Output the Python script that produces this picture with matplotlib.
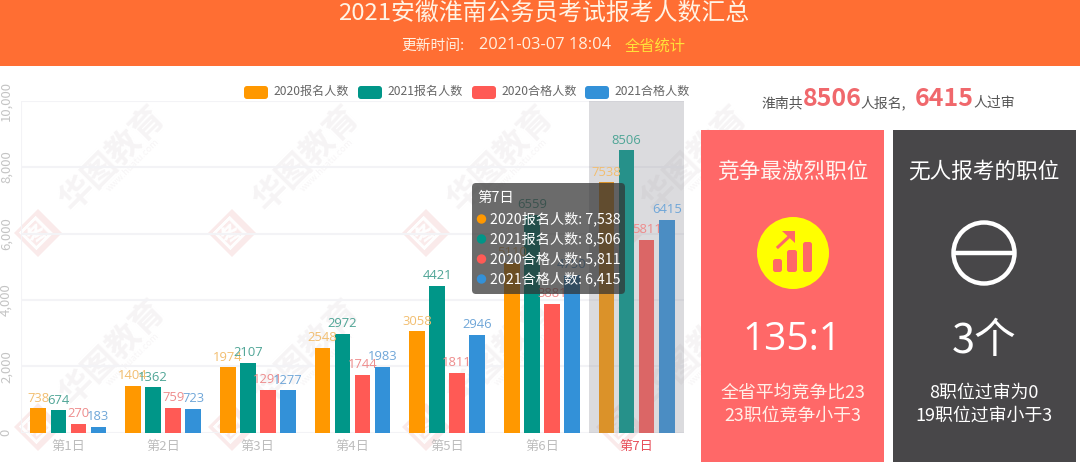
import matplotlib
matplotlib.use('Agg')
import matplotlib.pyplot as plt
from matplotlib.patches import Rectangle, FancyBboxPatch, Circle, Polygon

plt.rcParams['font.family'] = ['Noto Sans CJK SC', 'DejaVu Sans']

# data
days = ['第1日', '第2日', '第3日', '第4日', '第5日', '第6日', '第7日']
names = ['2020报名人数', '2021报名人数', '2020合格人数', '2021合格人数']
colors = ['#FF9800', '#009688', '#FF5A55', '#3391D8']
label_colors = ['#F2BE70', '#4FA596', '#EE8C8C', '#6FA6D8']
reg_2020 = [738, 1404, 1974, 2548, 3058, 5110, 7538]
reg_2021 = [674, 1362, 2107, 2972, 4421, 6559, 8506]
pass_2020 = [270, 759, 1291, 1744, 1811, 3881, 5811]
pass_2021 = [183, 723, 1277, 1983, 2946, 4750, 6415]
series = [reg_2020, reg_2021, pass_2020, pass_2021]
y_ticks = [0, 2000, 4000, 6000, 8000, 10000]
tooltip_rows = ['2020报名人数: 7,538', '2021报名人数: 8,506', '2020合格人数: 5,811', '2021合格人数: 6,415']

W, H = 1080, 462
fig = plt.figure(figsize=(W / 100, H / 100), dpi=100, facecolor='white')

# watermark layer goes under the chart
back = fig.add_axes([0, 0, 1, 1], zorder=0)
back.set_xlim(0, W)
back.set_ylim(H, 0)
back.axis('off')
for wy in (233, 427):
    for wx in (38, 232, 426, 620):
        back.add_patch(Polygon([[wx - 24, wy], [wx, wy - 24], [wx + 24, wy], [wx, wy + 24]],
                               fc='#FAEAEA', ec='none'))
        back.text(wx, wy, '图', rotation=45, ha='center', va='center', fontsize=20,
                  fontweight='bold', color='white')
        back.text(wx + 75, wy - 73, '华图教育', rotation=45, ha='center', va='center', fontsize=24,
                  fontweight='bold', color='#F6F4F5')
        back.text(wx + 95, wy - 68, 'www.huatu.com', rotation=45, ha='center', va='center',
                  fontsize=6.5, color='#F7F5F6')

# chart axes
ax = fig.add_axes([21 / W, 1 - 432.7 / H, 663 / W, 332 / H], zorder=1)
ax.set_xlim(-0.5, 6.5)
ax.set_ylim(0, 10000)
ax.set_facecolor('none')
for s in ax.spines.values():
    s.set_visible(False)
ax.set_yticks(y_ticks)
ax.set_yticklabels([f'{v:,}' for v in y_ticks], rotation=90, va='center', color='#C4C4C4', fontsize=9.5)
ax.tick_params(axis='both', length=0)
ax.tick_params(axis='y', pad=6)
ax.set_xticks(range(7))
ax.set_xticklabels(days, fontsize=9.5, color='#BDBDBD')
ax.get_xticklabels()[6].set_color('#E8505B')
ax.tick_params(axis='x', pad=5)
ax.grid(axis='y', color='#F3F3F6', lw=1.5)
ax.axvline(-0.5, color='#F3F3F6', lw=1.5)
ax.set_axisbelow(True)

# highlighted day
ax.axvspan(5.5, 6.5, color='#868690', alpha=0.29, lw=0, zorder=3)

step = 0.2115
bar_w = 0.165
for i, vals in enumerate(series):
    xs = [d + (i - 1.5) * step for d in range(7)]
    ax.bar(xs, vals, width=bar_w, color=colors[i], zorder=2)
    for x, v in zip(xs, vals):
        ax.text(x, v + 110, str(v), ha='center', va='bottom', fontsize=9.4,
                color=label_colors[i], zorder=4, family='Open Sans')

# pixel coordinate layer for the rest of the page
page = fig.add_axes([0, 0, 1, 1], zorder=2)
page.set_xlim(0, W)
page.set_ylim(H, 0)
page.axis('off')
page.patch.set_alpha(0)

# legend
legend_x = [244, 358, 472, 585]
for lx, name, c in zip(legend_x, names, colors):
    page.add_patch(FancyBboxPatch((lx, 86), 24, 13, boxstyle='round,pad=0,rounding_size=3', fc=c, ec='none'))
    page.text(lx + 29, 91.5, name, ha='left', va='center', fontsize=8.7, color='#666666')

# header
page.add_patch(Rectangle((0, 0), W, 66, color='#FF6E33', lw=0))
page.text(544, 13, '2021安徽淮南公务员考试报考人数汇总', ha='center', va='center',
          fontsize=17.2, color='#FFF3E4')
page.text(401, 46, '更新时间:', ha='left', va='center', fontsize=10.6, color='#FFF0E0')
page.text(479, 45, '2021-03-07 18:04', ha='left', va='center', fontsize=11.8, color='#FFF0E0',
          family='Open Sans')
page.text(625, 46, '全省统计', ha='left', va='center', fontsize=11, color='#FFE23A')

# tooltip
page.add_patch(FancyBboxPatch((475, 186), 147, 105, boxstyle='round,pad=3,rounding_size=4',
                              fc='#323232', ec='none', alpha=0.72, zorder=5))
page.text(477, 198, '第7日', ha='left', va='center', fontsize=10.4, color='white', zorder=6)
for k, row in enumerate(tooltip_rows):
    ry = 219 + k * 20
    page.add_patch(Circle((481.5, ry), 4, color=colors[k], zorder=6))
    page.text(490, ry, row, ha='left', va='center', fontsize=10.2, color='white', zorder=6)

# summary line
summary_grey = '#555555'
page.text(761, 103, '淮南共', ha='left', va='center', fontsize=10, color=summary_grey)
page.text(803, 98.5, '8506', ha='left', va='center', fontsize=18, fontweight='bold', color='#F0686C')
page.text(860, 103, '人报名,', ha='left', va='center', fontsize=10, color=summary_grey)
page.text(915, 98.5, '6415', ha='left', va='center', fontsize=18, fontweight='bold', color='#F0686C')
page.text(973, 103, '人过审', ha='left', va='center', fontsize=10, color=summary_grey)

# left card
card_red = '#FF6868'
page.add_patch(Rectangle((701, 130), 183, 332, color=card_red, lw=0))
page.text(793, 172, '竞争最激烈职位', ha='center', va='center', fontsize=15.6, color='#FFF4F0')
page.add_patch(Circle((793, 253), 36, color='#FFFF00', lw=0))
for bx, top, bw in ((773, 259, 9), (787, 250, 10), (803, 242, 9)):
    page.add_patch(FancyBboxPatch((bx, top), bw, 272 - top, boxstyle='round,pad=0,rounding_size=2.5',
                                  fc=card_red, ec='none'))
page.plot([778, 792], [247, 234], color=card_red, lw=2.2)
page.add_patch(Polygon([[782, 231], [795, 231], [795, 243]], color=card_red, lw=0))
page.text(792, 340, '135:1', ha='center', va='center', fontsize=28, color='white', family='Open Sans')
page.text(793, 393, '全省平均竞争比23', ha='center', va='center', fontsize=12.9, color='#FFF0E8')
page.text(793, 416, '23职位竞争小于3', ha='center', va='center', fontsize=12.9, color='#FFF0E8')

# right card
page.add_patch(Rectangle((893, 130), 183, 332, color='#484749', lw=0))
page.text(984, 172, '无人报考的职位', ha='center', va='center', fontsize=15.6, color='white')
page.add_patch(Circle((984, 253), 30.5, fc='none', ec='white', lw=3.2))
page.plot([954, 1014], [253, 253], color='white', lw=3.2, solid_capstyle='butt')
page.text(984, 341, '3个', ha='center', va='center', fontsize=30, color='white')
page.text(984, 393, '8职位过审为0', ha='center', va='center', fontsize=12.9, color='white')
page.text(984, 416, '19职位过审小于3', ha='center', va='center', fontsize=12.9, color='white')

fig.savefig('out.png', dpi=100)
